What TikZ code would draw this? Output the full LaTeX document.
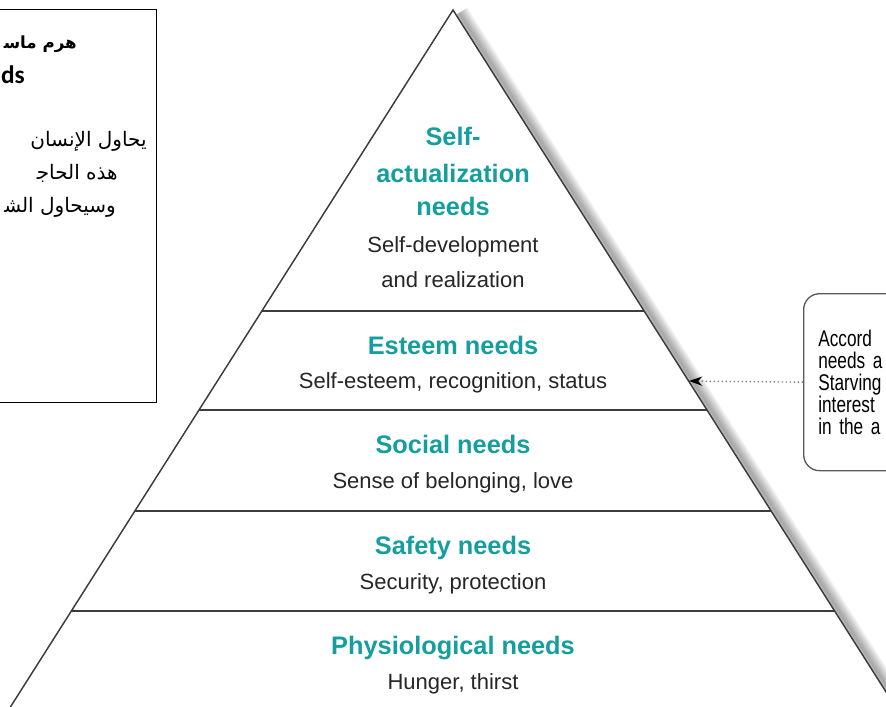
\documentclass[tikz,border=0pt]{standalone}
\usepackage{fontspec}
\setmainfont{Liberation Sans}
\newfontfamily\arabicfont[Script=Arabic]{DejaVu Sans}
\newfontfamily\narrowfont{Liberation Sans}[FakeStretch=0.76]
\newfontfamily\calfont{Carlito}
\TeXXeTstate=1
\usetikzlibrary{arrows.meta}

\definecolor{needteal}{RGB}{20,158,158}
\definecolor{edgegray}{RGB}{60,60,60}

\tikzset{
  level/.style={draw=edgegray, line width=1.5pt},
  head/.style={text=needteal, font=\fontsize{19}{22}\selectfont\bfseries, anchor=base},
  sub/.style={text=black!85, font=\fontsize{16.5}{20}\selectfont, anchor=base},
  arab/.style={font=\arabicfont\fontsize{15}{18}\selectfont, anchor=base east, inner sep=0pt},
}

\begin{document}
\begin{tikzpicture}[x=0.75pt, y=-0.75pt]
  \useasboundingbox (0,0) rectangle (886,707);

  \coordinate (apex) at (453,10);
  \coordinate (bl) at (10.4,707);
  \coordinate (br) at (895.6,707);

  % soft shadow on the right face
  \foreach \w in {2,4,...,20}
    \draw[black, opacity=0.04, line width=\w*0.75pt]
      ([shift={(6,3)}]apex) -- ([shift={(6,3)}]br);
  \fill[white] (bl) -- (apex) -- (br) -- cycle;
  \draw[edgegray, line width=1.1pt] (bl) -- (apex) -- (br);
  \foreach \y in {311,410,511,611}
    \draw[level] ({453-0.635*(\y-10)},\y) -- ({453+0.635*(\y-10)},\y);

  % top tier
  \node[head] (self1) at (453,145) {Self-};
  \node[head] (self2) at (453,182) {actualization};
  \node[head] (self3) at (453,215) {needs};
  \node[sub]  (selfd1) at (453,252) {Self-development};
  \node[sub]  (selfd2) at (453,287) {and realization};

  \node[head] (esteem) at (453,354) {Esteem needs};
  \node[sub]  (esteemd) at (453,388) {Self-esteem, recognition, status};

  \node[head] (social) at (453,453) {Social needs};
  \node[sub]  (sociald) at (453,488) {Sense of belonging, love};

  \node[head] (safety) at (453,554) {Safety needs};
  \node[sub]  (safetyd) at (453,589) {Security, protection};

  \node[head] (physio) at (453,654) {Physiological needs};
  \node[sub]  (physiod) at (453,689) {Hunger, thirst};

  % left info box
  \node[draw=black, line width=0.9pt, minimum width=133pt, minimum height=294.75pt,
        anchor=north east, inner sep=0pt] (infobox) at (157,9) {};
  \node[arab, font=\arabicfont\bfseries\fontsize{12.5}{15}\selectfont] (title) at (77,48)
    {\beginR هرم ماس^^^^200d\endR};
  \node[font=\calfont\bfseries\fontsize{19}{22}\selectfont, anchor=base east,
        inner sep=0pt] (titleen) at (25,83) {ds};
  \node[arab] (body1) at (147,146) {\beginR يحاول الإنسان\endR};
  \node[arab] (body2) at (118,179) {\beginR هذه الحاج^^^^200d\endR};
  \node[arab] (body3) at (116,212) {\beginR وسيحاول الش^^^^200d\endR};

  % right note box
  \node[draw=black!65, line width=1pt, rounded corners=12pt, minimum height=132.75pt,
        anchor=north west, inner xsep=11pt, inner ysep=0pt, text width=120pt, align=left,
        font=\narrowfont\fontsize{17}{16.5}\selectfont] (note) at (803,293)
    {Accord\\needs a\\Starving\\interest\\in the a};
  \coordinate (tip) at (689,381);
  \draw[black!50, dotted, line width=1pt, -{Stealth[length=10pt, width=7pt, black]}]
    (note.west) -- (tip);
\end{tikzpicture}
\end{document}
